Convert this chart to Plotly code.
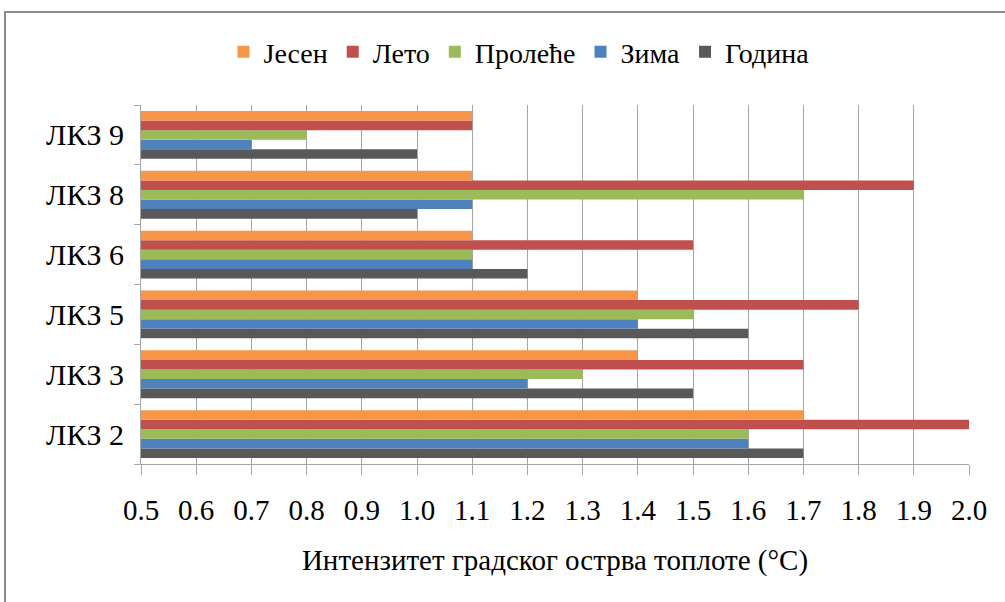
import plotly.graph_objects as go

categories = ["ЛКЗ 2", "ЛКЗ 3", "ЛКЗ 5", "ЛКЗ 6", "ЛКЗ 8", "ЛКЗ 9"]

jesen = [1.7, 1.4, 1.4, 1.1, 1.1, 1.1]
leto = [2.0, 1.7, 1.8, 1.5, 1.9, 1.1]
prolece = [1.6, 1.3, 1.5, 1.1, 1.7, 0.8]
zima = [1.6, 1.2, 1.4, 1.1, 1.1, 0.7]
godina = [1.7, 1.5, 1.6, 1.2, 1.0, 1.0]

x_ticks = [0.5, 0.6, 0.7, 0.8, 0.9, 1.0, 1.1, 1.2, 1.3, 1.4, 1.5, 1.6, 1.7, 1.8, 1.9, 2.0]

# bottom-to-top within each group
series = [
    ("Година", godina, "#595959"),
    ("Зима", zima, "#4F81BD"),
    ("Пролеће", prolece, "#9BBB59"),
    ("Лето", leto, "#C0504D"),
    ("Јесен", jesen, "#F79646"),
]

W, H = 1005, 602
L, R, T, B = 141, 36, 105, 138
pw, ph = W - L - R, H - T - B

fig = go.Figure()
for name, vals, color in series:
    fig.add_trace(go.Bar(y=categories, x=vals, name=name, orientation="h",
                         marker=dict(color=color, line=dict(width=0))))

font = "Liberation Serif"
grid = "#A6A6A6"

fig.update_layout(
    width=W, height=H,
    margin=dict(l=L, r=R, t=T, b=B),
    barmode="group",
    bargap=0.2,
    bargroupgap=0,
    plot_bgcolor="white",
    paper_bgcolor="white",
    font=dict(family=font, size=28, color="black"),
    legend=dict(orientation="h", traceorder="reversed",
                x=(519 - L) / pw, xanchor="center",
                y=(H - B - 52) / ph, yanchor="middle",
                font=dict(family=font, size=28, color="black"),
                itemwidth=30, tracegroupgap=0),
    xaxis=dict(range=[0.5, 2.0], tickvals=x_ticks,
               ticktext=[f"{v:.1f}" for v in x_ticks],
               showgrid=True, gridcolor=grid, gridwidth=1,
               ticks="outside", ticklen=10, tickcolor=grid,
               showline=True, linecolor=grid, linewidth=1,
               zeroline=False, tickfont=dict(family=font, size=29, color="black"),
               ticklabelstandoff=10,
               title=dict(text="Интензитет градског острва топлоте (°C)",
                          font=dict(family=font, size=29, color="black"), standoff=24)),
    yaxis=dict(showgrid=False, showline=True, linecolor=grid, linewidth=1,
               ticks="outside", ticklen=6, tickcolor=grid,
               tickson="boundaries", tickfont=dict(family=font, size=30, color="black"),
               ticklabelstandoff=10),
)

# outer frame
fig.add_shape(type="rect", xref="paper", yref="paper",
              x0=(5 - L) / pw, x1=(1010 - L) / pw,
              y0=(H - B - 610) / ph, y1=(H - B - 12) / ph,
              line=dict(color="#8C8C8C", width=2), fillcolor="rgba(0,0,0,0)", layer="below")

fig.write_html("out.html", config={"displayModeBar": False},
               post_script="document.body.style.margin='0';")
